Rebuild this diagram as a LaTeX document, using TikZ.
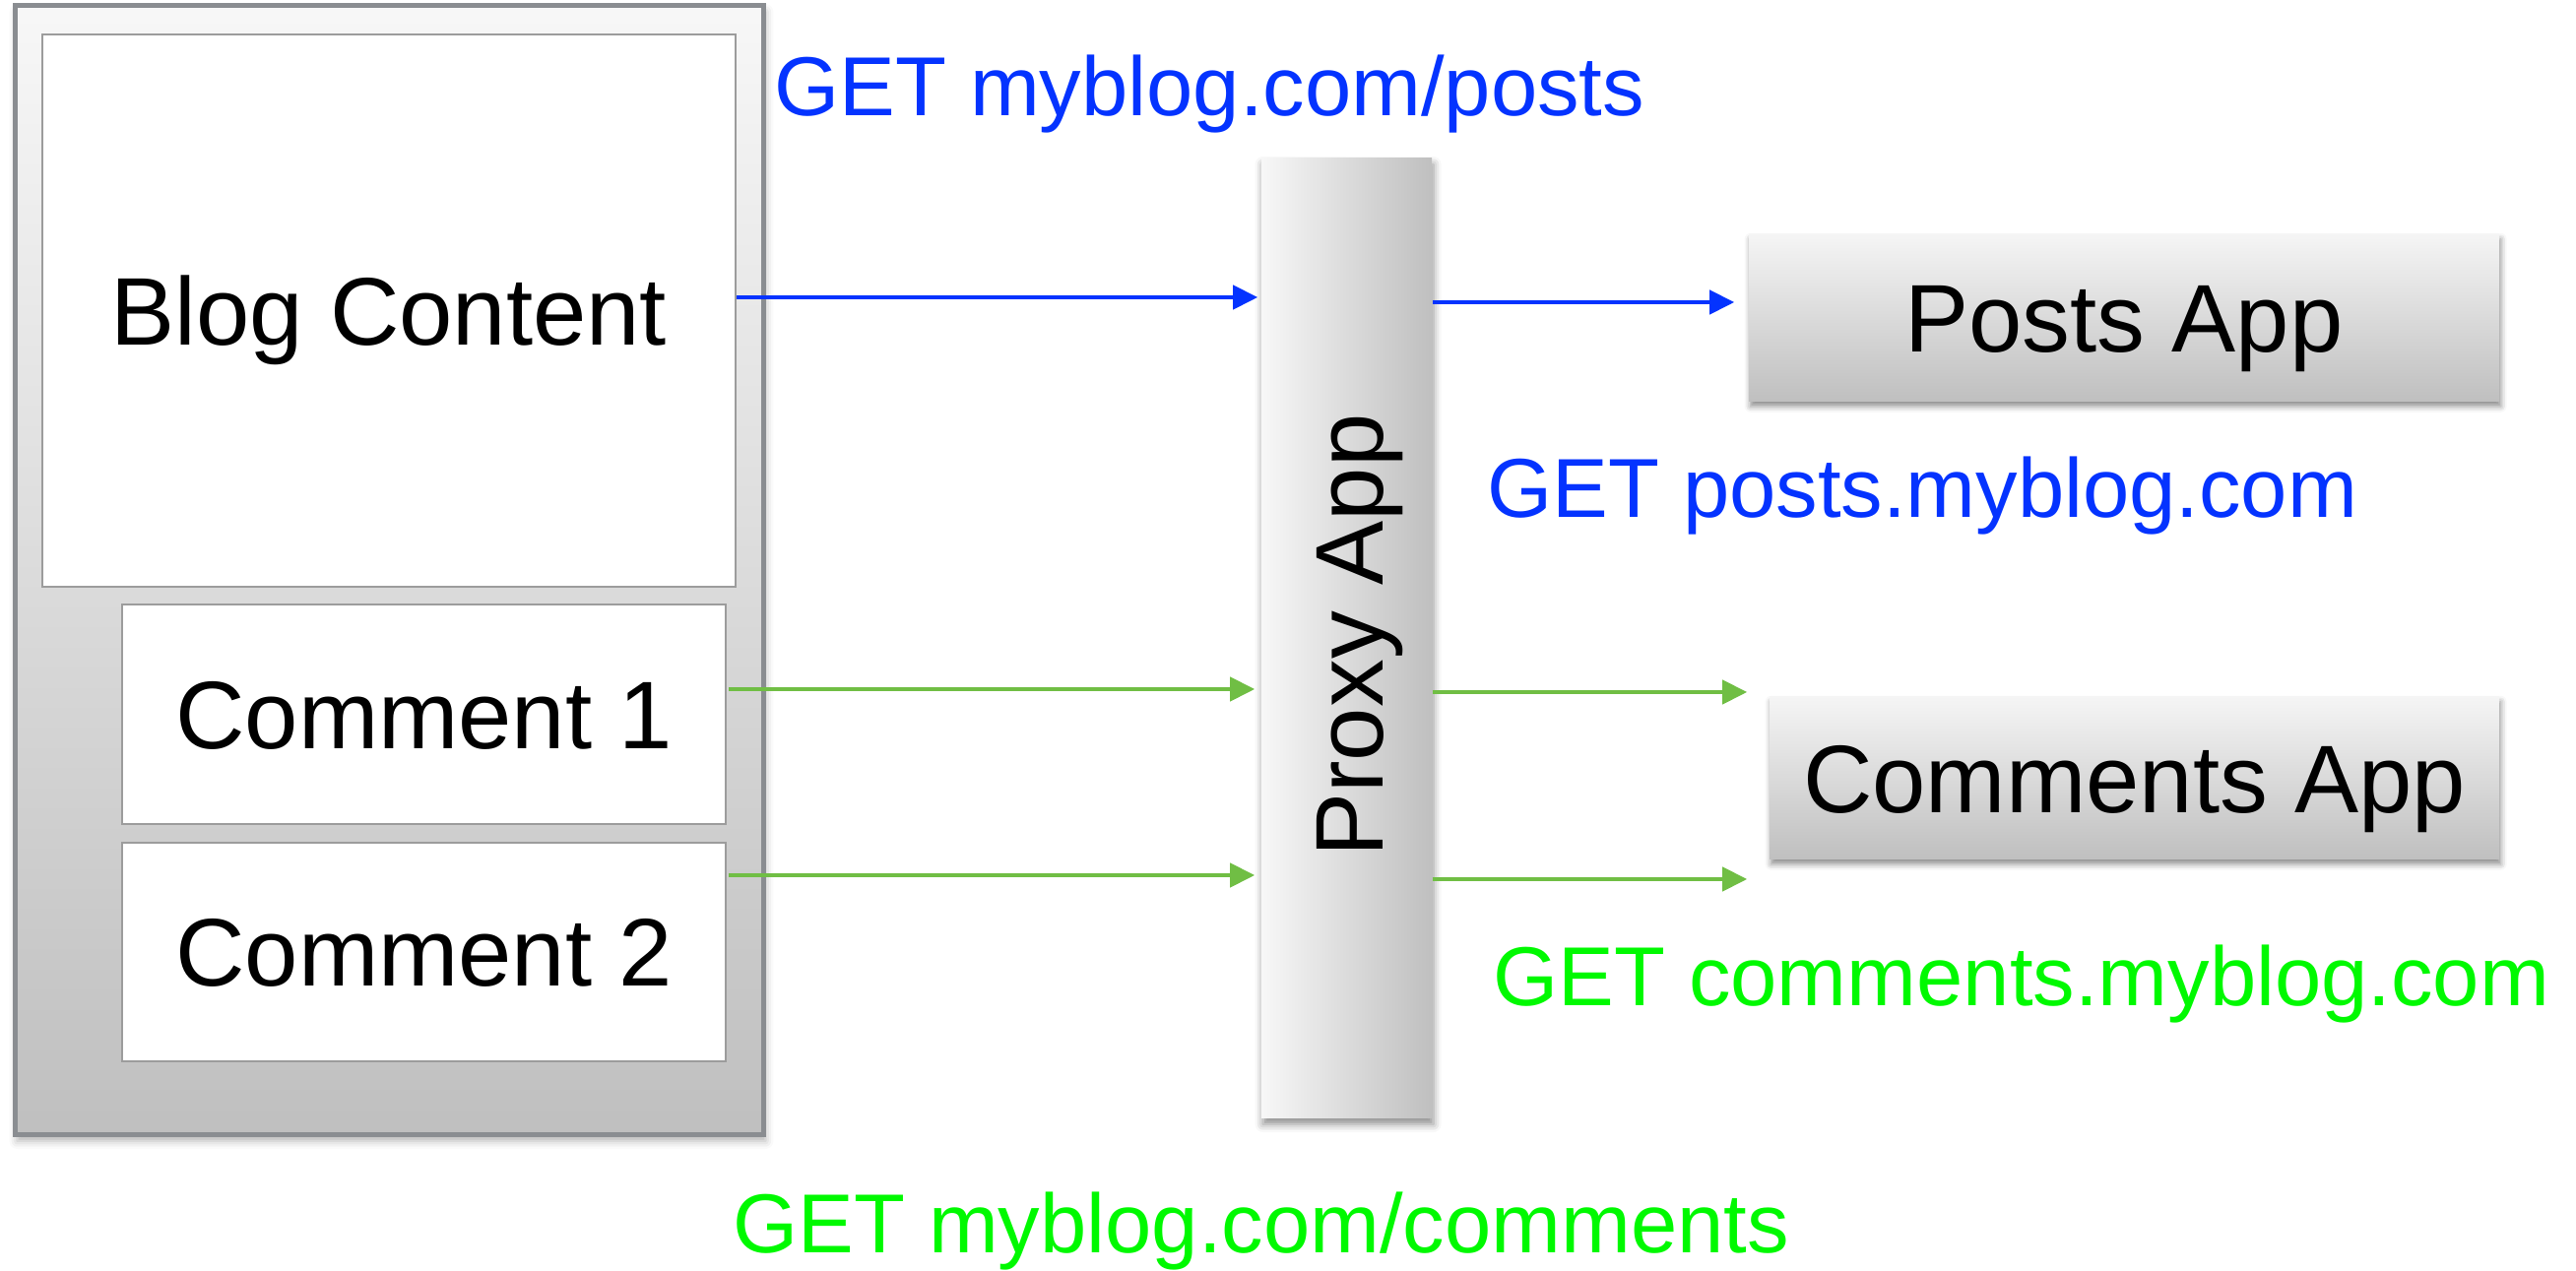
\documentclass[tikz,border=0pt]{standalone}
\usepackage{fontspec}
\setmainfont{Liberation Sans}
\usetikzlibrary{arrows.meta,shadows.blur}
\definecolor{getblue}{HTML}{0433FF}
\definecolor{getgreen}{HTML}{00F900}
\definecolor{linegreen}{HTML}{70BE44}
\definecolor{framegray}{HTML}{8A8D91}
\definecolor{boxgray}{HTML}{9C9C9C}
\begin{document}
\begin{tikzpicture}[x=0.25pt,y=-0.25pt,
  boxfont/.style={font=\fontsize{24.4pt}{29pt}\selectfont, text height=17.5pt, text depth=0pt, inner sep=0pt},
  getlabel/.style={font=\fontsize{21.25pt}{25pt}\selectfont, inner sep=0pt, anchor=base west},
  pagebox/.style={draw=framegray, line width=1.25pt, shading=axis, top color=white!97!black, bottom color=white!75!black,
     minimum width=190pt, minimum height=286.75pt, inner sep=0pt,
     blur shadow={shadow xshift=0.6pt, shadow yshift=-1.5pt, shadow blur radius=2pt, shadow opacity=30}},
  whitebox/.style={boxfont, draw=boxgray, line width=0.6pt, fill=white},
  appbox/.style={boxfont, shading=axis, top color=white!96!black, bottom color=white!75!black,
     blur shadow={shadow xshift=0.4pt, shadow yshift=-1.2pt, shadow blur radius=1.5pt, shadow opacity=45}},
  proxybox/.style={boxfont, shading=axis, left color=white!97!black, right color=white!75!black,
     blur shadow={shadow xshift=0.4pt, shadow yshift=-1.5pt, shadow blur radius=2pt, shadow opacity=45}},
  bluearrow/.style={draw=getblue, line width=1.1pt, -{Triangle[length=6.25pt,width=6pt]}},
  greenarrow/.style={draw=linegreen, line width=1.1pt, -{Triangle[length=6.25pt,width=6pt]}}
]
\useasboundingbox (0,0) rectangle (2616,1291);

% left page
\node[pagebox] (page) at (395,579.5) {};
\node[whitebox, minimum width=176pt, minimum height=140.25pt] (blog) at (395,315.5) {Blog Content};
\node[whitebox, minimum width=153.25pt, minimum height=55.75pt] (c1) at (430.5,725.5) {Comment 1};
\node[whitebox, minimum width=153.25pt, minimum height=55.5pt] (c2) at (430.5,967) {Comment 2};

% proxy
\node[proxybox, minimum width=43.25pt, minimum height=243.75pt] (proxy) at (1367.5,648.5) {};
\node[boxfont, rotate=90] (proxytext) at (1369,645.5) {Proxy App};

% apps
\node[appbox, minimum width=190.5pt, minimum height=42.5pt] (posts) at (2157,323) {Posts App};
\node[appbox, minimum width=185.25pt, minimum height=41.25pt] (comments) at (2167.5,790.5) {Comments App};

% arrows
\draw[bluearrow, shorten >=0.75pt] (blog.east |- {(0,302)}) -- (proxy.west |- {(0,302)});
\draw[bluearrow, shorten >=3.5pt] (proxy.east |- {(0,307)}) -- (posts.west |- {(0,307)});
\draw[greenarrow, shorten >=1.5pt, shorten <=0.5pt] (c1.east |- {(0,700)}) -- (proxy.west |- {(0,700)});
\draw[greenarrow, shorten >=1.5pt, shorten <=0.5pt] (c2.east |- {(0,889)}) -- (proxy.west |- {(0,889)});
\draw[greenarrow, shorten >=5.5pt] (proxy.east |- {(0,703)}) -- (comments.west |- {(0,703)});
\draw[greenarrow, shorten >=5.5pt] (proxy.east |- {(0,893)}) -- (comments.west |- {(0,893)});

% labels
\node[getlabel, text=getblue] (l1) at (786,118) {GET myblog.com/posts};
\node[getlabel, text=getblue] (l2) at (1510,526) {GET posts.myblog.com};
\node[getlabel, text=getgreen] (l3) at (1516,1022) {GET comments.myblog.com};
\node[getlabel, text=getgreen] (l4) at (744,1273) {GET myblog.com/comments};
\end{tikzpicture}
\end{document}
